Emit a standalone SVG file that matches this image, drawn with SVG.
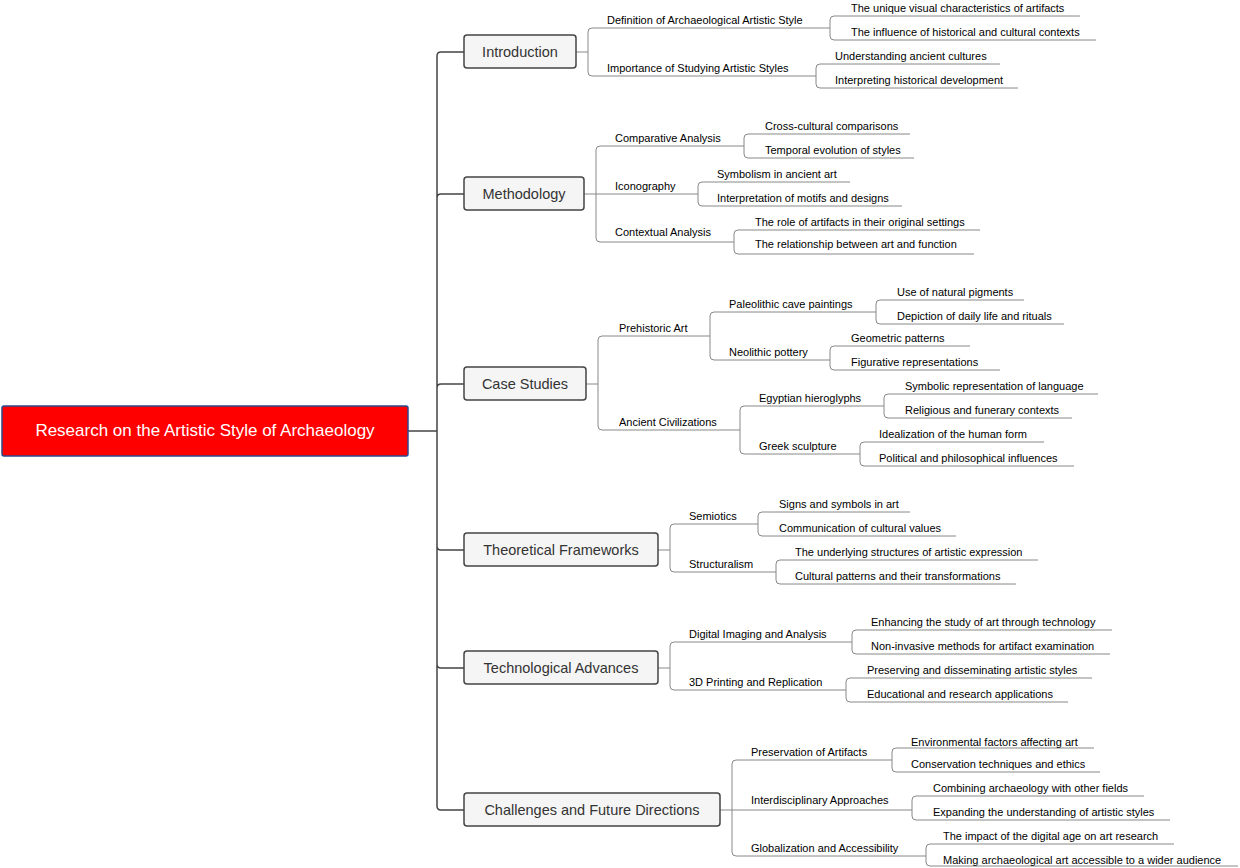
<svg xmlns="http://www.w3.org/2000/svg" width="1240" height="868" viewBox="0 0 1240 868">
<style>
text{font-family:"Liberation Sans",Arial,sans-serif;fill:#000}
.t{font-size:11px}
.b{font-size:14.5px;fill:#333}
.box{fill:#f5f5f5;stroke:#444;stroke-width:1.5}
.c{fill:none;stroke:#444;stroke-width:1.5}
.l{fill:none;stroke:#888;stroke-width:1}
</style>
<rect width="1240" height="868" fill="#fff"/>
<g id="connectors">
<path class="c" d="M408 431H437M437 431V56Q437 52 441 52H464M437 431V198Q437 194 441 194H464M437 431V388Q437 384 441 384H464M437 431V546Q437 550 441 550H464M437 431V664Q437 668 441 668H464M437 431V806Q437 810 441 810H464"/>
<path class="l" d="M576 52H588M588 52V32Q588 28 592 28H830M588 52V72Q588 76 592 76H816
M830 28V20Q830 16 834 16H1080M830 28V36Q830 40 834 40H1096
M816 76V68Q816 64 820 64H1000M816 76V84Q816 88 820 88H1018
M584 194H596M596 194V150Q596 146 600 146H744M596 194H698M596 194V238Q596 242 600 242H734
M744 146V138Q744 134 748 134H910M744 146V154Q744 158 748 158H914
M698 194V186Q698 182 702 182H850M698 194V202Q698 206 702 206H902
M734 242V234Q734 230 738 230H980M734 242V250Q734 254 738 254H974
M586 384H598M598 384V340Q598 336 602 336H710M598 384V426Q598 430 602 430H740
M710 336V316Q710 312 714 312H876M710 336V356Q710 360 714 360H830
M876 312V304Q876 300 880 300H1024M876 312V320Q876 324 880 324H1064
M830 360V350Q830 346 834 346H970M830 360V366Q830 370 834 370H1000
M740 430V410Q740 406 744 406H884M740 430V450Q740 454 744 454H860
M884 406V398Q884 394 888 394H1098M884 406V414Q884 418 888 418H1072
M860 454V446Q860 442 864 442H1044M860 454V462Q860 466 864 466H1074
M658 550H670M670 550V528Q670 524 674 524H758M670 550V568Q670 572 674 572H776
M758 524V516Q758 512 762 512H910M758 524V532Q758 536 762 536H956
M776 572V564Q776 560 780 560H1038M776 572V580Q776 584 780 584H1016
M658 668H670M670 668V646Q670 642 674 642H852M670 668V686Q670 690 674 690H846
M852 642V634Q852 630 856 630H1112M852 642V650Q852 654 856 654H1110
M846 690V682Q846 678 850 678H1092M846 690V698Q846 702 850 702H1068
M720 810H732M732 810V764Q732 760 736 760H892M732 810H912M732 810V852Q732 856 736 856H926
M892 760V752Q892 748 896 748H1094M892 760V768Q892 772 896 772H1100
M912 808V800Q912 796 916 796H1144M912 808V816Q912 820 916 820H1170
M926 856V848Q926 844 930 844H1174M926 856V862Q926 866 930 866H1238"/>
</g>
<g id="root"><rect x="2" y="406" width="406" height="50" rx="2" fill="#f00" stroke="#2a4a8f" stroke-width="1.5"/><text x="205" y="436" text-anchor="middle" style="font-size:17px;fill:#fff">Research on the Artistic Style of Archaeology</text></g>
<g id="n1"><rect class="box" x="464" y="35" width="112" height="33" rx="3"/><text class="b" x="520" y="57" text-anchor="middle">Introduction</text></g>
<g id="n2"><rect class="box" x="464" y="177" width="120" height="33" rx="3"/><text class="b" x="524" y="199" text-anchor="middle">Methodology</text></g>
<g id="n3"><rect class="box" x="464" y="367" width="122" height="33" rx="3"/><text class="b" x="525" y="389" text-anchor="middle">Case Studies</text></g>
<g id="n4"><rect class="box" x="464" y="533" width="194" height="33" rx="3"/><text class="b" x="561" y="555" text-anchor="middle">Theoretical Frameworks</text></g>
<g id="n5"><rect class="box" x="464" y="651" width="194" height="33" rx="3"/><text class="b" x="561" y="673" text-anchor="middle">Technological Advances</text></g>
<g id="n6"><rect class="box" x="464" y="793" width="256" height="33" rx="3"/><text class="b" x="592" y="815" text-anchor="middle">Challenges and Future Directions</text></g>
<g id="labels" class="t">
<text x="607" y="24">Definition of Archaeological Artistic Style</text>
<text x="851" y="12">The unique visual characteristics of artifacts</text>
<text x="851" y="36">The influence of historical and cultural contexts</text>
<text x="607" y="72">Importance of Studying Artistic Styles</text>
<text x="835" y="60">Understanding ancient cultures</text>
<text x="835" y="84">Interpreting historical development</text>
<text x="615" y="142">Comparative Analysis</text>
<text x="765" y="130">Cross-cultural comparisons</text>
<text x="765" y="154">Temporal evolution of styles</text>
<text x="615" y="190">Iconography</text>
<text x="717" y="178">Symbolism in ancient art</text>
<text x="717" y="202">Interpretation of motifs and designs</text>
<text x="615" y="236">Contextual Analysis</text>
<text x="755" y="226">The role of artifacts in their original settings</text>
<text x="755" y="248">The relationship between art and function</text>
<text x="619" y="332">Prehistoric Art</text>
<text x="729" y="308">Paleolithic cave paintings</text>
<text x="897" y="296">Use of natural pigments</text>
<text x="897" y="320">Depiction of daily life and rituals</text>
<text x="729" y="356">Neolithic pottery</text>
<text x="851" y="342">Geometric patterns</text>
<text x="851" y="366">Figurative representations</text>
<text x="619" y="426">Ancient Civilizations</text>
<text x="759" y="402">Egyptian hieroglyphs</text>
<text x="905" y="390">Symbolic representation of language</text>
<text x="905" y="414">Religious and funerary contexts</text>
<text x="759" y="450">Greek sculpture</text>
<text x="879" y="438">Idealization of the human form</text>
<text x="879" y="462">Political and philosophical influences</text>
<text x="689" y="520">Semiotics</text>
<text x="779" y="508">Signs and symbols in art</text>
<text x="779" y="532">Communication of cultural values</text>
<text x="689" y="568">Structuralism</text>
<text x="795" y="556">The underlying structures of artistic expression</text>
<text x="795" y="580">Cultural patterns and their transformations</text>
<text x="689" y="638">Digital Imaging and Analysis</text>
<text x="871" y="626">Enhancing the study of art through technology</text>
<text x="871" y="650">Non-invasive methods for artifact examination</text>
<text x="689" y="686">3D Printing and Replication</text>
<text x="867" y="674">Preserving and disseminating artistic styles</text>
<text x="867" y="698">Educational and research applications</text>
<text x="751" y="756">Preservation of Artifacts</text>
<text x="911" y="746">Environmental factors affecting art</text>
<text x="911" y="768">Conservation techniques and ethics</text>
<text x="751" y="804">Interdisciplinary Approaches</text>
<text x="933" y="792">Combining archaeology with other fields</text>
<text x="933" y="816">Expanding the understanding of artistic styles</text>
<text x="751" y="852">Globalization and Accessibility</text>
<text x="943" y="840">The impact of the digital age on art research</text>
<text x="943" y="864">Making archaeological art accessible to a wider audience</text>
</g>
</svg>
